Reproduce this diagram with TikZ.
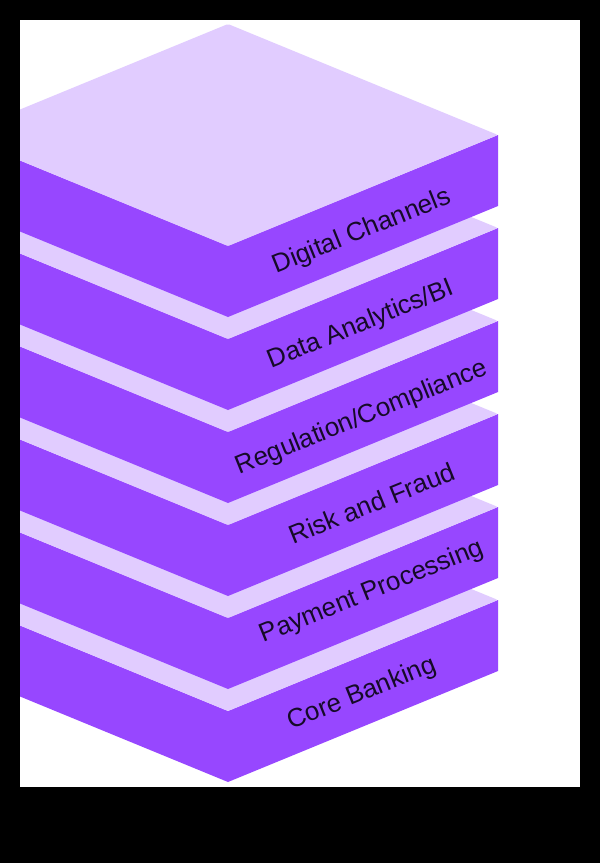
\documentclass[tikz,border=0pt]{standalone}
\usepackage{fontspec}
\setmainfont{Liberation Sans}
\definecolor{slabside}{RGB}{151,71,255}
\definecolor{slabtop}{RGB}{225,204,255}
\definecolor{labeltext}{RGB}{22,10,40}
\tikzset{
  sideface/.style={fill=slabside, draw=none},
  topface/.style={fill=slabtop, draw=none, rounded corners=1.5pt},
  layerlabel/.style={text=labeltext, font=\fontsize{26}{31}\selectfont, rotate=22, inner sep=0pt}
}
\begin{document}
\begin{tikzpicture}[x=1pt,y=-1pt]
\useasboundingbox (0,0) rectangle (600,863);
\fill[black] (0,0) rectangle (600,863);
\fill[white] (20,20) rectangle (580,787);
\begin{scope}
\clip (20,20) rectangle (580,787);
\foreach \n in {5,4,3,2,1,0}{
  \begin{scope}[shift={(0,\n*93)}]
    \path[sideface] (-42,135) -- (228,246) -- (498,135) -- (498,206) -- (228,317) -- (-42,206) -- cycle;
    \path[topface] (228,24) -- (498,135) -- (228,246) -- (-42,135) -- cycle;
  \end{scope}
}
\end{scope}
\node[layerlabel] (l1) at (362,232) {Digital Channels};
\node[layerlabel] (l2) at (361,325) {Data Analytics/BI};
\node[layerlabel] (l3) at (362,418) {Regulation/Compliance};
\node[layerlabel] (l4) at (372,503) {Risk and Fraud};
\node[layerlabel] (l5) at (372,592) {Payment Processing};
\node[layerlabel] (l6) at (362,694) {Core Banking};
\end{tikzpicture}
\end{document}
